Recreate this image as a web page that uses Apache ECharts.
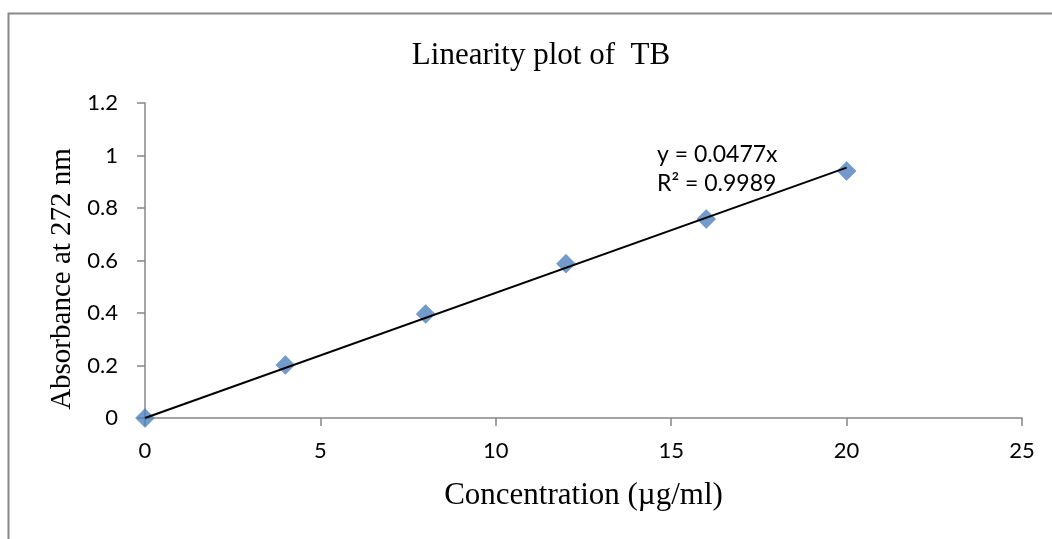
<!DOCTYPE html>
<html>
<head>
<meta charset="utf-8">
<script src="https://cdn.jsdelivr.net/npm/echarts@6/dist/echarts.min.js"></script>
<style>
html,body{margin:0;padding:0;background:#fff;}
#chart{width:1052px;height:539px;}
</style>
</head>
<body>
<div id="chart"></div>
<script>
// Data
var concentrations = [0, 4, 8, 12, 16, 20];
var absorbances = [0, 0.202, 0.396, 0.588, 0.758, 0.941];
var slope = 0.0477;
var trendX = [0, 20];
var equationLines = ['y = 0.0477x', 'R\u00B2 = 0.9989'];
var titleText = 'Linearity plot of  TB';
var xAxisName = 'Concentration (\u00B5g/ml)';
var yAxisName = 'Absorbance at 272 nm';

var chart = echarts.init(document.getElementById('chart'));
var points = concentrations.map(function (c, i) { return [c, absorbances[i]]; });
var trend = trendX.map(function (x) { return [x, slope * x]; });

var serif = '"Liberation Serif", "DejaVu Serif", serif';
var sans = 'Lato, "Open Sans", sans-serif';

chart.setOption({
  animation: false,
  backgroundColor: '#fff',
  title: {
    text: titleText,
    left: 536, top: 35, textAlign: 'center',
    textStyle: { fontFamily: serif, fontSize: 31, fontWeight: 'normal', color: '#000' }
  },
  grid: { left: 145, right: 30, top: 103, bottom: 121 },
  xAxis: {
    type: 'value', min: 0, max: 25, interval: 5,
    name: xAxisName, nameLocation: 'middle', nameGap: 62,
    nameTextStyle: { fontFamily: serif, fontSize: 31, color: '#000' },
    axisLine: { show: true, onZero: false, lineStyle: { color: '#868686', width: 1.5 } },
    axisTick: { show: true, length: 8, lineStyle: { color: '#868686', width: 1.5 } },
    axisLabel: { fontFamily: sans, fontSize: 22, color: '#000', margin: 22 },
    splitLine: { show: false }
  },
  yAxis: {
    type: 'value', min: 0, max: 1.2, interval: 0.2,
    axisLine: { show: true, lineStyle: { color: '#868686', width: 1.5 } },
    axisTick: { show: true, length: 8, lineStyle: { color: '#868686', width: 1.5 } },
    axisLabel: { fontFamily: sans, fontSize: 22, color: '#000', margin: 27,
      formatter: function (v) { return String(Math.round(v * 10) / 10); } },
    splitLine: { show: false }
  },
  graphic: [
    { type: 'rect', silent: true, z: -1,
      shape: { x: 8.5, y: 13.5, width: 1200, height: 700 },
      style: { fill: 'none', stroke: '#888', lineWidth: 2 } },
    { type: 'text', x: 62, y: 279, rotation: Math.PI / 2,
      style: { text: yAxisName, font: '29px ' + serif, fill: '#000',
        align: 'center', verticalAlign: 'middle' } },
    { type: 'text', left: 657, top: 140,
      style: { text: equationLines.join('\n'), font: '23px ' + sans, fill: '#000', lineHeight: 29 } }
  ],
  series: [
    {
      type: 'line', data: trend, symbol: 'none', z: 3,
      lineStyle: { color: '#000', width: 2 }
    },
    {
      type: 'scatter', data: points, symbol: 'diamond', symbolSize: 19, z: 2,
      itemStyle: { color: '#4F81BD', borderColor: '#4A7EBB', borderWidth: 0.5 }
    }
  ]
});
</script>
</body>
</html>
